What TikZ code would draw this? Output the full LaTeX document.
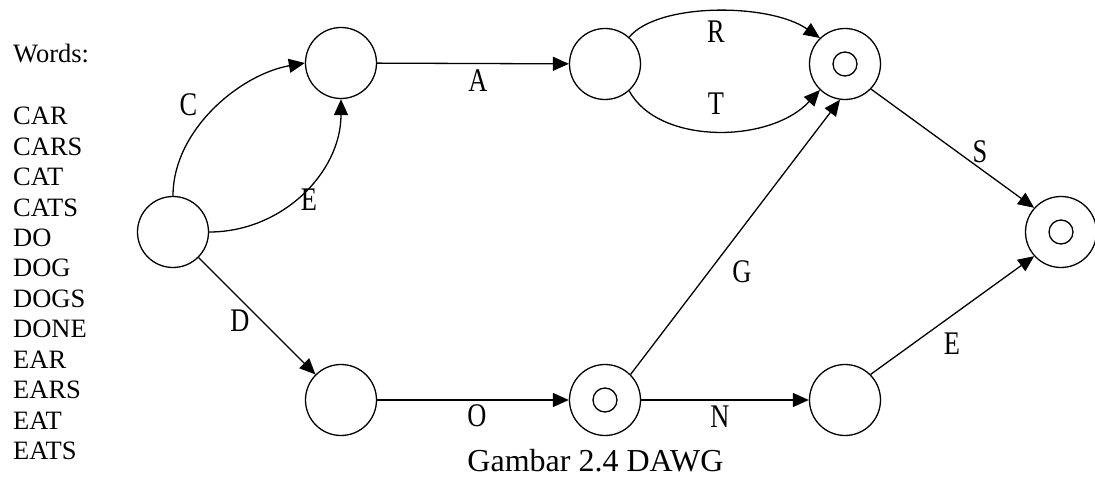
\documentclass[tikz,border=0pt]{standalone}
\usepackage{fontspec}
\setmainfont{Liberation Serif}
\usetikzlibrary{arrows.meta}
\newcommand\lblsq[1]{\scalebox{0.8}[1]{#1}}
\begin{document}
\begin{tikzpicture}[x=1pt,y=1pt,
  state/.style={circle,draw,line width=1.3pt,minimum size=71pt,inner sep=0pt},
  innerring/.style={circle,draw,line width=1.3pt,minimum size=24pt,inner sep=0pt},
  edge/.style={line width=1.3pt,-{Triangle[length=16pt,width=14pt]}},
  lbl/.style={font=\fontsize{33}{36}\selectfont,inner sep=0pt},
  word/.style={font=\fontsize{26.5}{30}\selectfont,inner sep=0pt,anchor=base west},
  capt/.style={font=\fontsize{32}{38}\selectfont,inner sep=0pt,anchor=base}
]
\useasboundingbox (0,0) rectangle (1095,-478);

% word list
\foreach \t/\y [count=\i] in {Words:/63, CAR/125, CARS/155.4, CAT/185.8, CATS/216.2, DO/246.6, DOG/277, DOGS/307.4, DONE/337.8, EAR/368.2, EARS/398.6, EAT/429, EATS/459.4}
  \node[word] (w\i) at (13,-\y) {\t};

% states
\node[state] (S)  at (173,-232) {};
\node[state] (A1) at (341,-63) {};
\node[state] (A2) at (605,-64) {};
\node[state] (F1) at (845,-64) {};
\node[innerring] (F1i) at (F1.center) {};
\node[state] (F2) at (1061,-232) {};
\node[innerring] (F2i) at (F2.center) {};
\node[state] (B1) at (341,-400) {};
\node[state] (B2) at (605,-400) {};
\node[innerring] (B2i) at (B2.center) {};
\node[state] (B3) at (845,-400) {};

% edges
\draw[edge] (S.north) to[out=90,in=190,looseness=0.9] (A1.west);
\draw[edge] (S.east) to[out=0,in=-90] (A1.south);
\draw[edge] (A1) -- (A2);
\draw[edge] (A2.48) .. controls +(29,35) and +(-50,35) .. (F1.134);
\draw[edge] (A2.-48) .. controls +(29,-54) and +(-50,-54) .. (F1.-134);
\draw[edge] (F1.-44) -- (F2.138);
\draw[edge] (S.-45) -- (B1.135);
\draw[edge] (B1) -- (B2);
\draw[edge] (B2) -- (B3);
\draw[edge] (B2.45) -- (F1.-98);
\draw[edge] (B3.45) -- (F2.-138);

% edge labels
\node[lbl] (lC) at (188.5,-105) {\lblsq{C}};
\node[lbl] (lE1) at (309,-200) {\lblsq{E}};
\node[lbl] (lA) at (478,-80.5) {\lblsq{A}};
\node[lbl] (lR) at (716,-32) {\lblsq{R}};
\node[lbl] (lT) at (716,-104) {\lblsq{T}};
\node[lbl] (lS) at (980,-152) {\lblsq{S}};
\node[lbl] (lD) at (240,-321) {\lblsq{D}};
\node[lbl] (lO) at (477,-416) {\lblsq{O}};
\node[lbl] (lN) at (720,-417) {\lblsq{N}};
\node[lbl] (lG) at (742,-272) {\lblsq{G}};
\node[lbl] (lE2) at (952,-344) {\lblsq{E}};

% caption
\node[capt] (cap) at (595.5,-471) {Gambar 2.4 DAWG};
\end{tikzpicture}
\end{document}
